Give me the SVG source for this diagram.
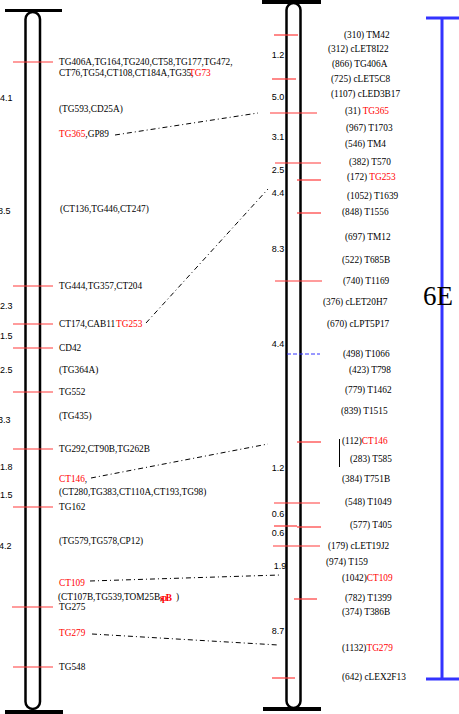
<svg xmlns="http://www.w3.org/2000/svg" width="459" height="714" viewBox="0 0 459 714">
<style>
.bg{fill:#fff}
.chr{fill:none;stroke:#000;stroke-width:2.5}
.bar{fill:#000}
.mk{stroke:#ff3a3a;stroke-width:1.2}
.lb{font-family:"Liberation Serif","DejaVu Serif",serif;font-size:9.3px;fill:#000}
.r{fill:#ff0000}
.d{font-family:"Liberation Sans","DejaVu Sans",sans-serif;font-size:9px;fill:#000}
.dm{text-anchor:middle}
.con{fill:none;stroke:#000;stroke-width:1;stroke-dasharray:5,3,1,3}
.blue{stroke:#3333ff;fill:none}
</style>
<rect class="bg" x="0" y="0" width="459" height="714"/>

<g id="chromosome-left">
  <rect class="chr" x="25.5" y="12" width="14.5" height="697" rx="7.2"/>
  <rect class="bar" x="5" y="9" width="57" height="3"/>
  <rect class="bar" x="5" y="710" width="58" height="4"/>
</g>

<g id="chromosome-right">
  <rect class="chr" x="286.5" y="3" width="14" height="705" rx="7"/>
  <rect class="bar" x="262" y="0" width="59" height="4"/>
  <rect class="bar" x="263" y="707" width="58" height="4"/>
</g>

<g id="left-markers">
  <line class="mk" x1="13" y1="62" x2="53" y2="62"/>
  <line class="mk" x1="13" y1="286" x2="53" y2="286"/>
  <line class="mk" x1="13" y1="324" x2="53" y2="324"/>
  <line class="mk" x1="13" y1="348" x2="53" y2="348"/>
  <line class="mk" x1="13" y1="392" x2="53" y2="392"/>
  <line class="mk" x1="13" y1="449" x2="53" y2="449"/>
  <line class="mk" x1="13" y1="507" x2="53" y2="507"/>
  <line class="mk" x1="12" y1="607" x2="53" y2="607"/>
  <line class="mk" x1="13" y1="667" x2="53" y2="667"/>
</g>

<g id="left-distances">
  <text class="d" x="0" y="101">4.1</text>
  <text class="d" x="-2" y="214">8.5</text>
  <text class="d" x="0" y="309">2.3</text>
  <text class="d" x="0" y="339">1.5</text>
  <text class="d" x="0" y="373">2.5</text>
  <text class="d" x="-2" y="423">3.3</text>
  <text class="d" x="0" y="470">1.8</text>
  <text class="d" x="0" y="498">1.5</text>
  <text class="d" x="-1" y="549">4.2</text>
</g>

<g id="left-labels">
  <text class="lb" x="59" y="65">TG406A,TG164,TG240,CT58,TG177,TG472,</text>
  <text class="lb" x="59" y="76">CT76,TG54,CT108,CT184A,TG35,</text>
  <text class="lb r" x="189" y="76">TG73</text>
  <text class="lb" x="59" y="112">(TG593,CD25A)</text>
  <text class="lb" x="59" y="137"><tspan class="r">TG365</tspan>,GP89</text>
  <text class="lb" x="60" y="212">(CT136,TG446,CT247)</text>
  <text class="lb" x="59" y="289">TG444,TG357,CT204</text>
  <text class="lb" x="59" y="327">CT174,CAB11</text>
  <text class="lb r" x="116" y="327">TG253</text>
  <text class="lb" x="59" y="351">CD42</text>
  <text class="lb" x="59" y="373">(TG364A)</text>
  <text class="lb" x="59" y="395">TG552</text>
  <text class="lb" x="59" y="419">(TG435)</text>
  <text class="lb" x="59" y="452">TG292,CT90B,TG262B</text>
  <text class="lb" x="59" y="482"><tspan class="r">CT146</tspan>,</text>
  <text class="lb" x="59" y="495">(CT280,TG383,CT110A,CT193,TG98)</text>
  <text class="lb" x="59" y="510">TG162</text>
  <text class="lb" x="59" y="544">(TG579,TG578,CP12)</text>
  <text class="lb r" x="59" y="586">CT109</text>
  <text class="lb" x="58" y="600">(CT107B,TG539,TOM25B,</text>
  <text class="lb r" x="160" y="601" style="font-weight:bold;letter-spacing:-1.5px">spB</text>
  <text class="lb" x="176" y="600">)</text>
  <text class="lb" x="59" y="610">TG275</text>
  <text class="lb r" x="59" y="636">TG279</text>
  <text class="lb" x="59" y="670">TG548</text>
</g>

<g id="right-markers">
  <line class="mk" x1="274" y1="35" x2="298" y2="35"/>
  <line class="mk" x1="272" y1="79" x2="296" y2="79"/>
  <line class="mk" x1="270" y1="113" x2="317" y2="113"/>
  <line class="mk" x1="275" y1="163" x2="321" y2="163"/>
  <line class="mk" x1="297" y1="180" x2="321" y2="180" stroke-width="2"/>
  <line class="mk" x1="297" y1="213" x2="321" y2="213"/>
  <line class="mk" x1="275" y1="281" x2="322" y2="281"/>
  <line x1="287" y1="354" x2="320" y2="354" stroke="#3333ff" stroke-width="1" stroke-dasharray="4,2"/>
  <line class="mk" x1="297" y1="442" x2="321" y2="442"/>
  <line class="mk" x1="274" y1="503" x2="320" y2="503"/>
  <line class="mk" x1="274" y1="526" x2="297" y2="526"/>
  <line class="mk" x1="297" y1="527" x2="321" y2="527"/>
  <line class="mk" x1="273" y1="546" x2="320" y2="546"/>
  <line class="mk" x1="294" y1="599" x2="317" y2="599"/>
  <line class="mk" x1="272" y1="678" x2="295" y2="678"/>
  <line x1="339.5" y1="439" x2="339.5" y2="467" stroke="#000" stroke-width="1"/>
</g>

<g id="right-distances">
  <text class="d dm" x="278" y="58">1.2</text>
  <text class="d dm" x="278" y="100">5.0</text>
  <text class="d dm" x="278" y="140">3.1</text>
  <text class="d dm" x="278" y="173">2.5</text>
  <text class="d dm" x="278" y="196">4.4</text>
  <text class="d dm" x="278" y="252">8.3</text>
  <text class="d dm" x="278" y="347">4.4</text>
  <text class="d dm" x="278" y="471">1.2</text>
  <text class="d dm" x="278" y="517">0.6</text>
  <text class="d dm" x="278" y="536">0.6</text>
  <text class="d dm" x="280" y="569">1.9</text>
  <text class="d dm" x="278" y="634">8.7</text>
</g>

<g id="right-labels">
  <text class="lb" x="344" y="38">(310) TM42</text>
  <text class="lb" x="328" y="52">(312) cLET8I22</text>
  <text class="lb" x="332" y="67">(866) TG406A</text>
  <text class="lb" x="331" y="82">(725) cLET5C8</text>
  <text class="lb" x="331" y="97">(1107) cLED3B17</text>
  <text class="lb" x="345" y="114">(31) <tspan class="r">TG365</tspan></text>
  <text class="lb" x="346" y="131">(967) T1703</text>
  <text class="lb" x="345" y="147">(546) TM4</text>
  <text class="lb" x="349" y="165">(382) T570</text>
  <text class="lb" x="347" y="180">(172) <tspan class="r">TG253</tspan></text>
  <text class="lb" x="347" y="199">(1052) T1639</text>
  <text class="lb" x="342" y="215">(848) T1556</text>
  <text class="lb" x="345" y="240">(697) TM12</text>
  <text class="lb" x="342" y="263">(522) T685B</text>
  <text class="lb" x="343" y="284">(740) T1169</text>
  <text class="lb" x="323" y="305">(376) cLET20H7</text>
  <text class="lb" x="327" y="327">(670) cLPT5P17</text>
  <text class="lb" x="343" y="357">(498) T1066</text>
  <text class="lb" x="349" y="373">(423) T798</text>
  <text class="lb" x="345" y="393">(779) T1462</text>
  <text class="lb" x="341" y="414">(839) T1515</text>
  <text class="lb" x="342" y="444">(112)<tspan class="r">CT146</tspan></text>
  <text class="lb" x="350" y="462">(283) T585</text>
  <text class="lb" x="342" y="482">(384) T751B</text>
  <text class="lb" x="345" y="505">(548) T1049</text>
  <text class="lb" x="350" y="528">(577) T405</text>
  <text class="lb" x="328" y="549">(179) cLET19J2</text>
  <text class="lb" x="326" y="565">(974) T159</text>
  <text class="lb" x="342" y="581">(1042)<tspan class="r">CT109</tspan></text>
  <text class="lb" x="345" y="601">(782) T1399</text>
  <text class="lb" x="342" y="615">(374) T386B</text>
  <text class="lb" x="342" y="651">(1132)<tspan class="r">TG279</tspan></text>
  <text class="lb" x="342" y="680">(642) cLEX2F13</text>
</g>

<g id="connectors">
  <path class="con" d="M115,135 L258,113"/>
  <path class="con" d="M146,323 L268,189"/>
  <path class="con" d="M91,478 L268,444"/>
  <path class="con" d="M90,581 L280,575"/>
  <path class="con" d="M92,634 L278,645"/>
</g>

<g id="bracket-6E">
  <line class="blue" x1="442" y1="17" x2="442" y2="680" stroke-width="3"/>
  <line class="blue" x1="426" y1="18" x2="459" y2="18" stroke-width="3"/>
  <line class="blue" x1="426" y1="679" x2="459" y2="679" stroke-width="3"/>
  <text x="423" y="305" style="font-family:'Liberation Serif','DejaVu Serif',serif;font-size:27px;fill:#000">6E</text>
</g>
</svg>
